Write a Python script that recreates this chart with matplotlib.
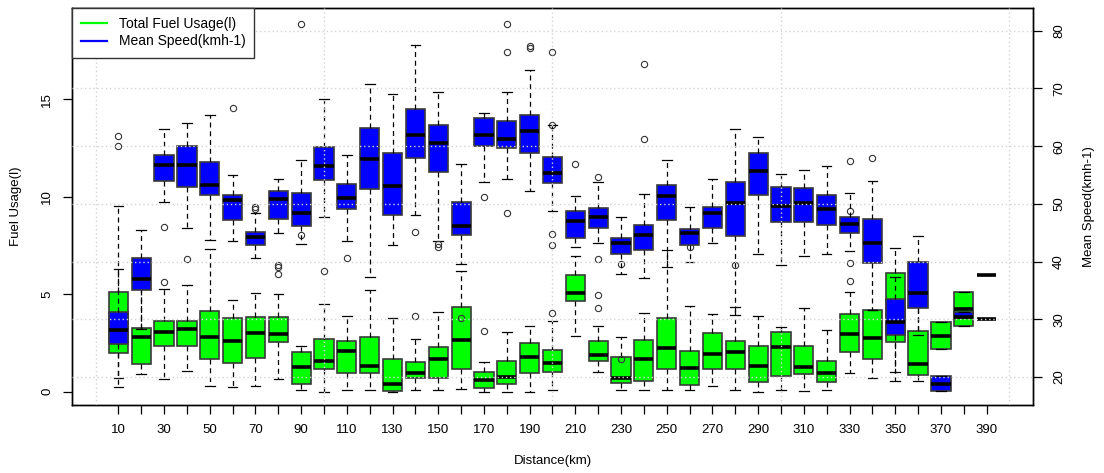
import matplotlib
matplotlib.use("Agg")
import matplotlib.pyplot as plt

plt.rcParams['font.family'] = ['Liberation Sans', 'DejaVu Sans']

# distance bins (km)
dist = list(range(10, 400, 10))

# Total fuel usage (l): q1, median, q3, lower whisker, upper whisker, outliers
fuel_q1 = [1.97, 1.41, 2.36, 2.36, 1.68, 1.49, 1.74, 2.53, 0.39, 1.15,
           0.97, 0.97, 0.05, 0.69, 0.69, 1.18, 0.17, 0.39, 0.97, 1.03,
           4.67, 1.57, 0.43, 0.56, 1.15, 0.34, 1.15, 1.15, 0.51, 0.81,
           0.89, 0.51, 2.02, 1.68, 2.53, 0.86, 2.19, 3.38, 5.98]
fuel_med = [3.30, 2.82, 3.05, 3.22, 2.82, 2.62, 2.99, 2.96, 1.25, 1.59,
            2.10, 1.32, 0.38, 0.94, 1.69, 2.65, 0.60, 0.77, 1.76, 1.49,
            5.05, 1.88, 0.72, 1.66, 2.22, 1.20, 1.93, 2.05, 1.32, 2.31,
            1.28, 0.97, 2.94, 2.77, 3.30, 1.42, 2.87, 4.23, 5.98]
fuel_q3 = [5.13, 3.25, 3.64, 3.64, 4.15, 3.76, 3.85, 3.85, 2.05, 2.70,
           2.60, 2.82, 1.69, 1.54, 2.28, 4.36, 1.03, 1.59, 2.48, 2.14,
           5.98, 2.60, 1.79, 2.65, 3.76, 2.10, 2.99, 2.60, 2.36, 3.05,
           2.36, 1.59, 3.97, 4.19, 6.10, 3.11, 3.56, 5.13, 5.98]
fuel_lo = [0.26, 0.89, 0.65, 1.08, 0.31, 0.26, 0.31, 0.65, 0.09, 0.00,
           0.09, 0.09, 0.00, 0.09, 0.09, 0.12, 0.00, 0.00, 0.00, 0.09,
           2.87, 1.03, 0.09, 0.09, 0.09, 0.09, 0.29, 0.09, 0.00, 0.09,
           0.05, 0.09, 0.97, 0.69, 0.56, 0.56, 2.19, 3.38, 5.98]
fuel_hi = [9.50, 5.50, 5.28, 5.47, 7.34, 4.69, 5.08, 5.01, 2.36, 4.51,
           3.90, 5.23, 3.79, 2.70, 4.10, 6.21, 1.54, 3.05, 3.38, 3.64,
           6.96, 3.37, 2.79, 4.02, 7.28, 4.41, 3.97, 4.33, 3.90, 3.33,
           4.28, 3.16, 5.13, 4.19, 7.38, 5.20, 3.56, 5.13, 5.98]
fuel_out = [[12.6, 13.1], [], [5.64], [], [], [], [], [6.03, 6.41, 6.5],
            [8.02, 18.86], [6.21], [], [], [], [3.9], [], [], [3.11], [], [],
            [4.02, 13.7], [], [4.28, 4.96], [6.53], [], [], [7.4], [], [6.48],
            [], [], [], [], [9.25], [12.0], [], [], [], [], []]

# Mean speed (km/h)
speed_q1 = [25.8, 35.0, 54.0, 53.0, 51.5, 47.2, 42.8, 47.3, 46.2, 54.1,
            49.1, 52.6, 48.1, 58.0, 55.5, 44.6, 60.0, 59.6, 58.9, 53.6,
            44.1, 45.9, 41.4, 42.0, 47.2, 42.8, 45.8, 44.5, 51.5, 46.8,
            46.9, 46.3, 44.9, 39.7, 27.2, 31.9, 17.5, 30.2, 30.0]
speed_med = [28.1, 36.9, 56.7, 56.7, 53.3, 50.6, 44.2, 50.8, 48.5, 56.6,
             51.1, 57.7, 53.1, 61.9, 60.5, 46.2, 61.9, 61.2, 62.6, 55.4,
             47.0, 47.8, 43.2, 44.6, 51.4, 45.0, 48.5, 50.1, 55.7, 49.6,
             50.2, 49.1, 46.5, 43.2, 29.6, 34.6, 18.8, 30.4, 30.0]
speed_q3 = [31.3, 40.6, 58.5, 60.1, 57.2, 51.5, 45.1, 52.3, 51.9, 59.9,
            53.4, 63.2, 58.8, 66.4, 63.7, 50.3, 64.9, 64.4, 65.4, 58.2,
            48.8, 49.3, 44.1, 46.3, 53.3, 45.6, 49.4, 53.8, 58.9, 52.9,
            52.7, 51.5, 47.8, 47.4, 33.5, 39.9, 20.2, 31.3, 30.0]
speed_lo = [19.9, 28.4, 50.3, 45.8, 43.7, 43.6, 40.7, 44.9, 43.0, 47.7,
            43.6, 37.3, 42.8, 48.1, 43.6, 39.5, 53.8, 54.4, 52.3, 48.8,
            42.5, 43.2, 37.9, 37.1, 39.1, 39.9, 43.3, 30.7, 41.4, 39.4,
            41.0, 41.4, 41.9, 31.6, 20.9, 27.3, 17.5, 30.2, 30.0]
speed_hi = [38.8, 45.5, 63.0, 64.1, 65.4, 55.0, 48.5, 54.4, 57.6, 68.1,
            58.5, 70.8, 69.0, 77.5, 69.4, 57.0, 65.8, 69.4, 73.2, 63.7,
            51.4, 53.8, 47.7, 51.8, 57.6, 49.4, 54.3, 63.0, 61.6, 55.2,
            55.8, 56.6, 51.9, 54.0, 37.3, 44.5, 20.2, 31.3, 30.0]
speed_out = [[], [], [46.0], [40.5], [], [66.7], [49.1, 49.4], [], [], [],
             [40.7], [], [], [45.1], [42.6, 43.0], [30.3], [51.2],
             [48.5, 76.4, 81.2], [77.1, 77.3], [42.8, 44.7, 76.4],
             [56.9], [54.6, 40.5], [23.2], [61.2, 74.2], [], [], [], [], [], [],
             [], [], [57.4, 39.7, 36.7], [], [], [], [], [], []]


def make_stats(q1, med, q3, lo, hi, out):
    return [dict(q1=a, med=b, q3=c, whislo=d, whishi=e, fliers=f)
            for a, b, c, d, e, f in zip(q1, med, q3, lo, hi, out)]


def style(color):
    return dict(
        patch_artist=True, widths=8.4, showfliers=True,
        boxprops=dict(facecolor=color, edgecolor='#3a3a3a', linewidth=1.2),
        medianprops=dict(color='black', linewidth=2.6, solid_capstyle='butt'),
        whiskerprops=dict(color='black', linewidth=0.9, linestyle=(0, (4, 3))),
        capprops=dict(color='black', linewidth=0.9),
        flierprops=dict(marker='o', markersize=4.5, markerfacecolor='none',
                        markeredgecolor='#333333', markeredgewidth=0.8),
    )


fig = plt.figure(figsize=(11.04, 4.73), dpi=100)
ax = fig.add_axes([0.0652, 0.1438, 0.8705, 0.8393])
ax2 = ax.twinx()

# fuel first, speed boxes drawn on top
ax.bxp(make_stats(fuel_q1, fuel_med, fuel_q3, fuel_lo, fuel_hi, fuel_out),
       positions=dist, **style('#00ff00'))
ax2.bxp(make_stats(speed_q1, speed_med, speed_q3, speed_lo, speed_hi, speed_out),
        positions=dist, **style('#0000ff'))

ax.set_xlim(-10.3, 410.3)
ax.set_ylim(-0.68, 19.68)
ax2.set_ylim(15.15, 83.95)

ax.set_xticks(dist)
ax.set_xticklabels([str(d) if i % 2 == 0 else '' for i, d in enumerate(dist)])
ax.set_yticks([0, 5, 10, 15])
ax2.set_yticks([20, 30, 40, 50, 60, 70, 80])

# grid drawn over the boxes, like R's grid()
ax2.set_axisbelow(False)
ax2.grid(True, axis='y', color='#d3d3d3', linestyle=(0, (1, 2)), linewidth=1)
for g in range(0, 401, 100):
    ax2.axvline(g, color='#d3d3d3', linestyle=(0, (1, 2)), linewidth=1, zorder=3)

fs = 9.5
ax.tick_params(axis='x', length=6.5, width=0.9, pad=7, labelsize=fs)
ax.tick_params(axis='y', length=6.5, width=0.9, pad=7, labelsize=fs,
               labelrotation=90)
ax2.tick_params(axis='y', length=6.5, width=0.9, pad=8, labelsize=fs,
                labelrotation=90)
for lab in ax.get_yticklabels() + ax2.get_yticklabels():
    lab.set_verticalalignment('center')

ax.set_xlabel('Distance(km)', fontsize=fs, labelpad=14)
ax.set_ylabel('Fuel Usage(l)', fontsize=fs, labelpad=14)
ax2.set_ylabel('Mean Speed(kmh-1)', fontsize=fs, labelpad=13, rotation=90)

for a in (ax, ax2):
    for s in a.spines.values():
        s.set_linewidth(1.0)
        s.set_color('black')

h1, = ax2.plot([], [], color='#00ff00', lw=1.6)
h2, = ax2.plot([], [], color='#0000ff', lw=1.6)
leg = ax2.legend([h1, h2], ['Total Fuel Usage(l)', 'Mean Speed(kmh-1)'],
                 loc='upper left', bbox_to_anchor=(0, 1), borderaxespad=0,
                 fancybox=False, framealpha=1, edgecolor='#333333',
                 fontsize=10, handlelength=1.9, handletextpad=0.8,
                 borderpad=0.65, labelspacing=0.25)
leg.get_frame().set_linewidth(1.0)
leg.set_zorder(5)

fig.savefig('out.png', dpi=100)
